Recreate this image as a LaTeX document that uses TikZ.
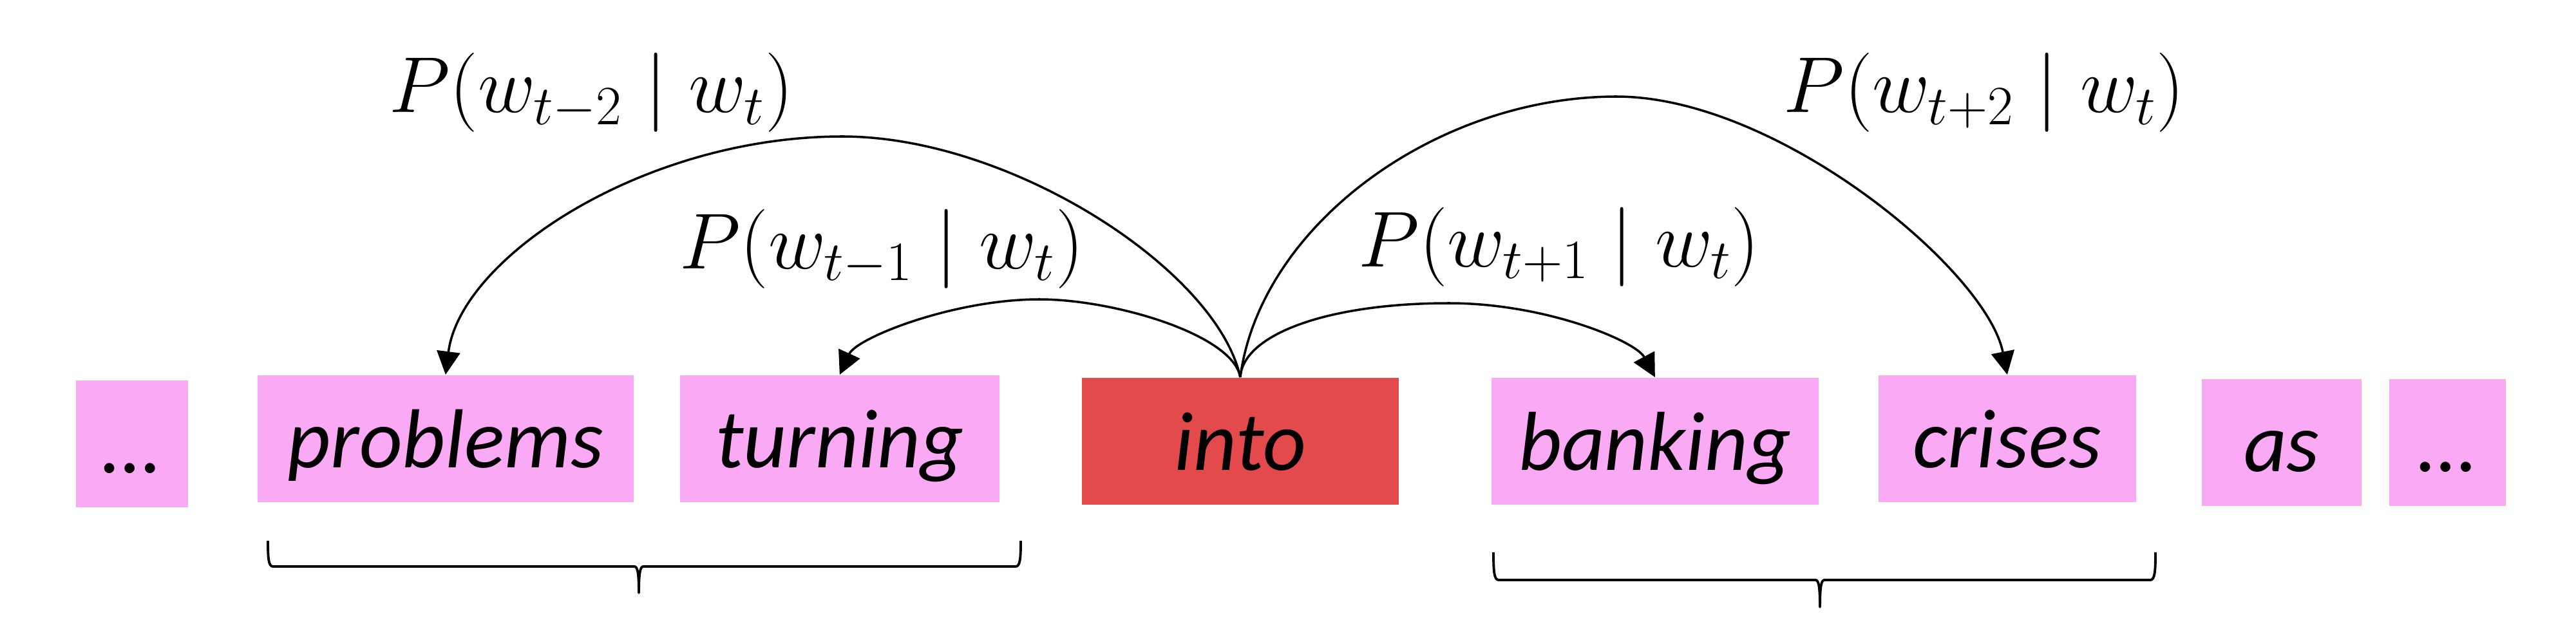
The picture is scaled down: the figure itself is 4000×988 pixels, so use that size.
\RequirePackage{fix-cm}
\documentclass[tikz,border=0pt]{standalone}
\usepackage{fontspec}
\setmainfont{Carlito}
\usetikzlibrary{arrows.meta}
\definecolor{wpink}{RGB}{250,170,245}
\definecolor{wred}{RGB}{226,74,76}
\begin{document}
\begin{tikzpicture}[x=0.01cm,y=-0.01cm,
  wbox/.style={fill=wpink, draw=none, inner sep=0pt, anchor=north west,
    text height=1.44cm, text depth=0.53cm,
    font=\fontsize{37}{44}\selectfont\itshape},
  cbox/.style={wbox, fill=wred},
  arr/.style={line width=1pt, -{Triangle[length=0.36cm,width=0.36cm]}},
  lbl/.style={anchor=base, inner sep=0pt, font=\fontsize{35}{42}\selectfont},
  brc/.style={line width=1.1pt, line join=round}]
\useasboundingbox (0,0) rectangle (4000,988);
% word boxes
\node[wbox, minimum width=1.74cm] (d1) at (117,590) {…};
\node[wbox, minimum width=5.84cm] (problems) at (399,582) {problems};
\node[wbox, minimum width=4.96cm] (turning) at (1055,582) {turning};
\node[cbox, minimum width=4.92cm] (into) at (1679,586) {into};
\node[wbox, minimum width=5.08cm] (banking) at (2315,586) {banking};
\node[wbox, minimum width=4.00cm] (crises) at (2916,582) {crises};
\node[wbox, minimum width=2.48cm] (as) at (3418,588) {as};
\node[wbox, minimum width=1.81cm] (d2) at (3709,588) {…};
% arcs
\coordinate (pk1) at (1308,212);
\coordinate (pk2) at (1614,465);
\coordinate (pk3) at (2250,471);
\coordinate (pk4) at (2510,150);
\draw[arr] (into.north) .. controls (1890,420) and (1570,212) .. (pk1)
  .. controls (1000,212) and (715,400) .. (problems.north);
\draw[arr] (into.north) .. controls (1915,520) and (1730,465) .. (pk2)
  .. controls (1480,465) and (1330,525) .. (turning.north);
\draw[arr] (into.north) .. controls (1930,520) and (2060,471) .. (pk3)
  .. controls (2400,471) and (2540,530) .. (banking.north);
\draw[arr] (into.north) .. controls (1957,350) and (2230,150) .. (pk4)
  .. controls (2760,150) and (3085,420) .. (crises.north);
% labels
\node[lbl] (l1) at (918,175) {$P(w_{t-2}\mid w_t)$};
\node[lbl] (l2) at (1369,417) {$P(w_{t-1}\mid w_t)$};
\node[lbl] (l3) at (2421,414) {$P(w_{t+1}\mid w_t)$};
\node[lbl] (l4) at (3081,175) {$P(w_{t+2}\mid w_t)$};
% braces
\draw[brc] (416,840) .. controls (416,868) and (417,880) .. (424,880) -- (985,880)
  .. controls (990,880) and (992,890) .. (992,921)
  .. controls (992,890) and (994,880) .. (999,880) -- (1577,880)
  .. controls (1584,880) and (1585,868) .. (1585,840);
\draw[brc] (2319,858) .. controls (2319,887) and (2320,901) .. (2327,901) -- (2819,901)
  .. controls (2824,901) and (2826,911) .. (2826,943)
  .. controls (2826,911) and (2828,901) .. (2833,901) -- (3339,901)
  .. controls (3346,901) and (3347,887) .. (3347,858);
\end{tikzpicture}
\end{document}
